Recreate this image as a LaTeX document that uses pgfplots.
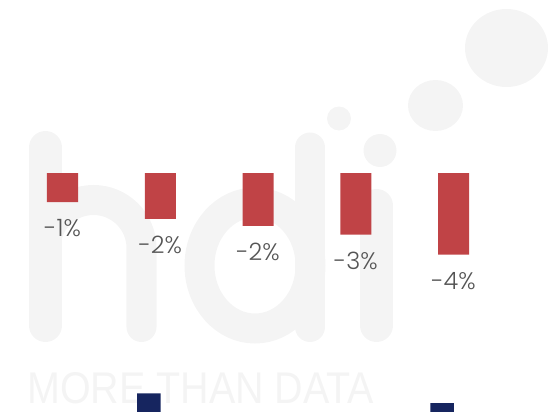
\documentclass[border=0pt]{standalone}
\usepackage{pgfplots}
\pgfplotsset{compat=1.18}
\usepackage{fontspec}
\IfFontExistsTF{Poppins Light}{\setmainfont{Poppins Light}}{\setmainfont{Poppins}}
\newfontfamily\wmfont{Liberation Sans}
\definecolor{barred}{RGB}{192,67,70}
\definecolor{navy}{RGB}{22,37,95}
\definecolor{wm}{RGB}{244,244,244}
\definecolor{lbl}{RGB}{85,85,85}
\begin{document}
\begin{tikzpicture}
\useasboundingbox (0,0) rectangle (551bp,-412bp);
\clip (0,0) rectangle (551bp,-412bp);
% watermark
\begin{scope}[x=1bp,y=-1bp,wm,line cap=round]
  \fill (506.5,48) ellipse [x radius=41.5, y radius=39];
  \fill (435.5,105.5) ellipse [x radius=27.5, y radius=25.5];
  \fill (339,118.5) circle [radius=12];
  \fill (380,150.5) circle [radius=16.5];
  \draw[line width=33bp] (45.5,147.5) -- (45.5,325.5);
  \draw[line width=30bp] (45.5,248) arc[start angle=180, end angle=360, radius=48] -- (141.5,327);
  \draw[line width=30bp] (255,265.5) ellipse [x radius=55.5, y radius=63];
  \draw[line width=30bp] (310,147.5) -- (310,327);
  \draw[line width=33bp] (376.5,205.5) -- (376.5,325.5);
  \node[anchor=south west, inner sep=0pt] at (27,404) {\resizebox{347bp}{31bp}{\wmfont\fontsize{43}{43}\selectfont MORE THAN DATA}};
\end{scope}
% main bars
\begin{axis}[
  at={(13.625bp,-173bp)}, anchor=north west,
  scale only axis, width=488.75bp, height=110bp,
  xmin=-0.5, xmax=4.5, ymin=-5, ymax=0,
  hide axis, clip=false,
  ybar, bar width=31bp,
  nodes near coords,
  point meta=explicit symbolic,
  every node near coord/.append style={anchor=north, yshift=-14bp, font=\fontsize{24}{24}\selectfont, text=lbl},
]
\addplot[fill=barred, draw=none] coordinates {
  (0,-1.32) [-1\%]
  (1,-2.08) [-2\%]
  (2,-2.40) [-2\%]
  (3,-2.80) [-3\%]
  (4,-3.71) [-4\%]
};
\end{axis}
% navy bars of the chart below (cut off)
\begin{axis}[
  at={(13.625bp,-512bp)}, anchor=south west,
  scale only axis, width=488.75bp, height=200bp,
  xmin=-0.5, xmax=4.5, ymin=0, ymax=20,
  hide axis, clip=false,
  ybar, bar width=23.5bp, bar shift=-11.5bp,
]
\addplot[fill=navy, draw=none] coordinates {(1,11.87) (4,10.9)};
\end{axis}
\end{tikzpicture}
\end{document}
